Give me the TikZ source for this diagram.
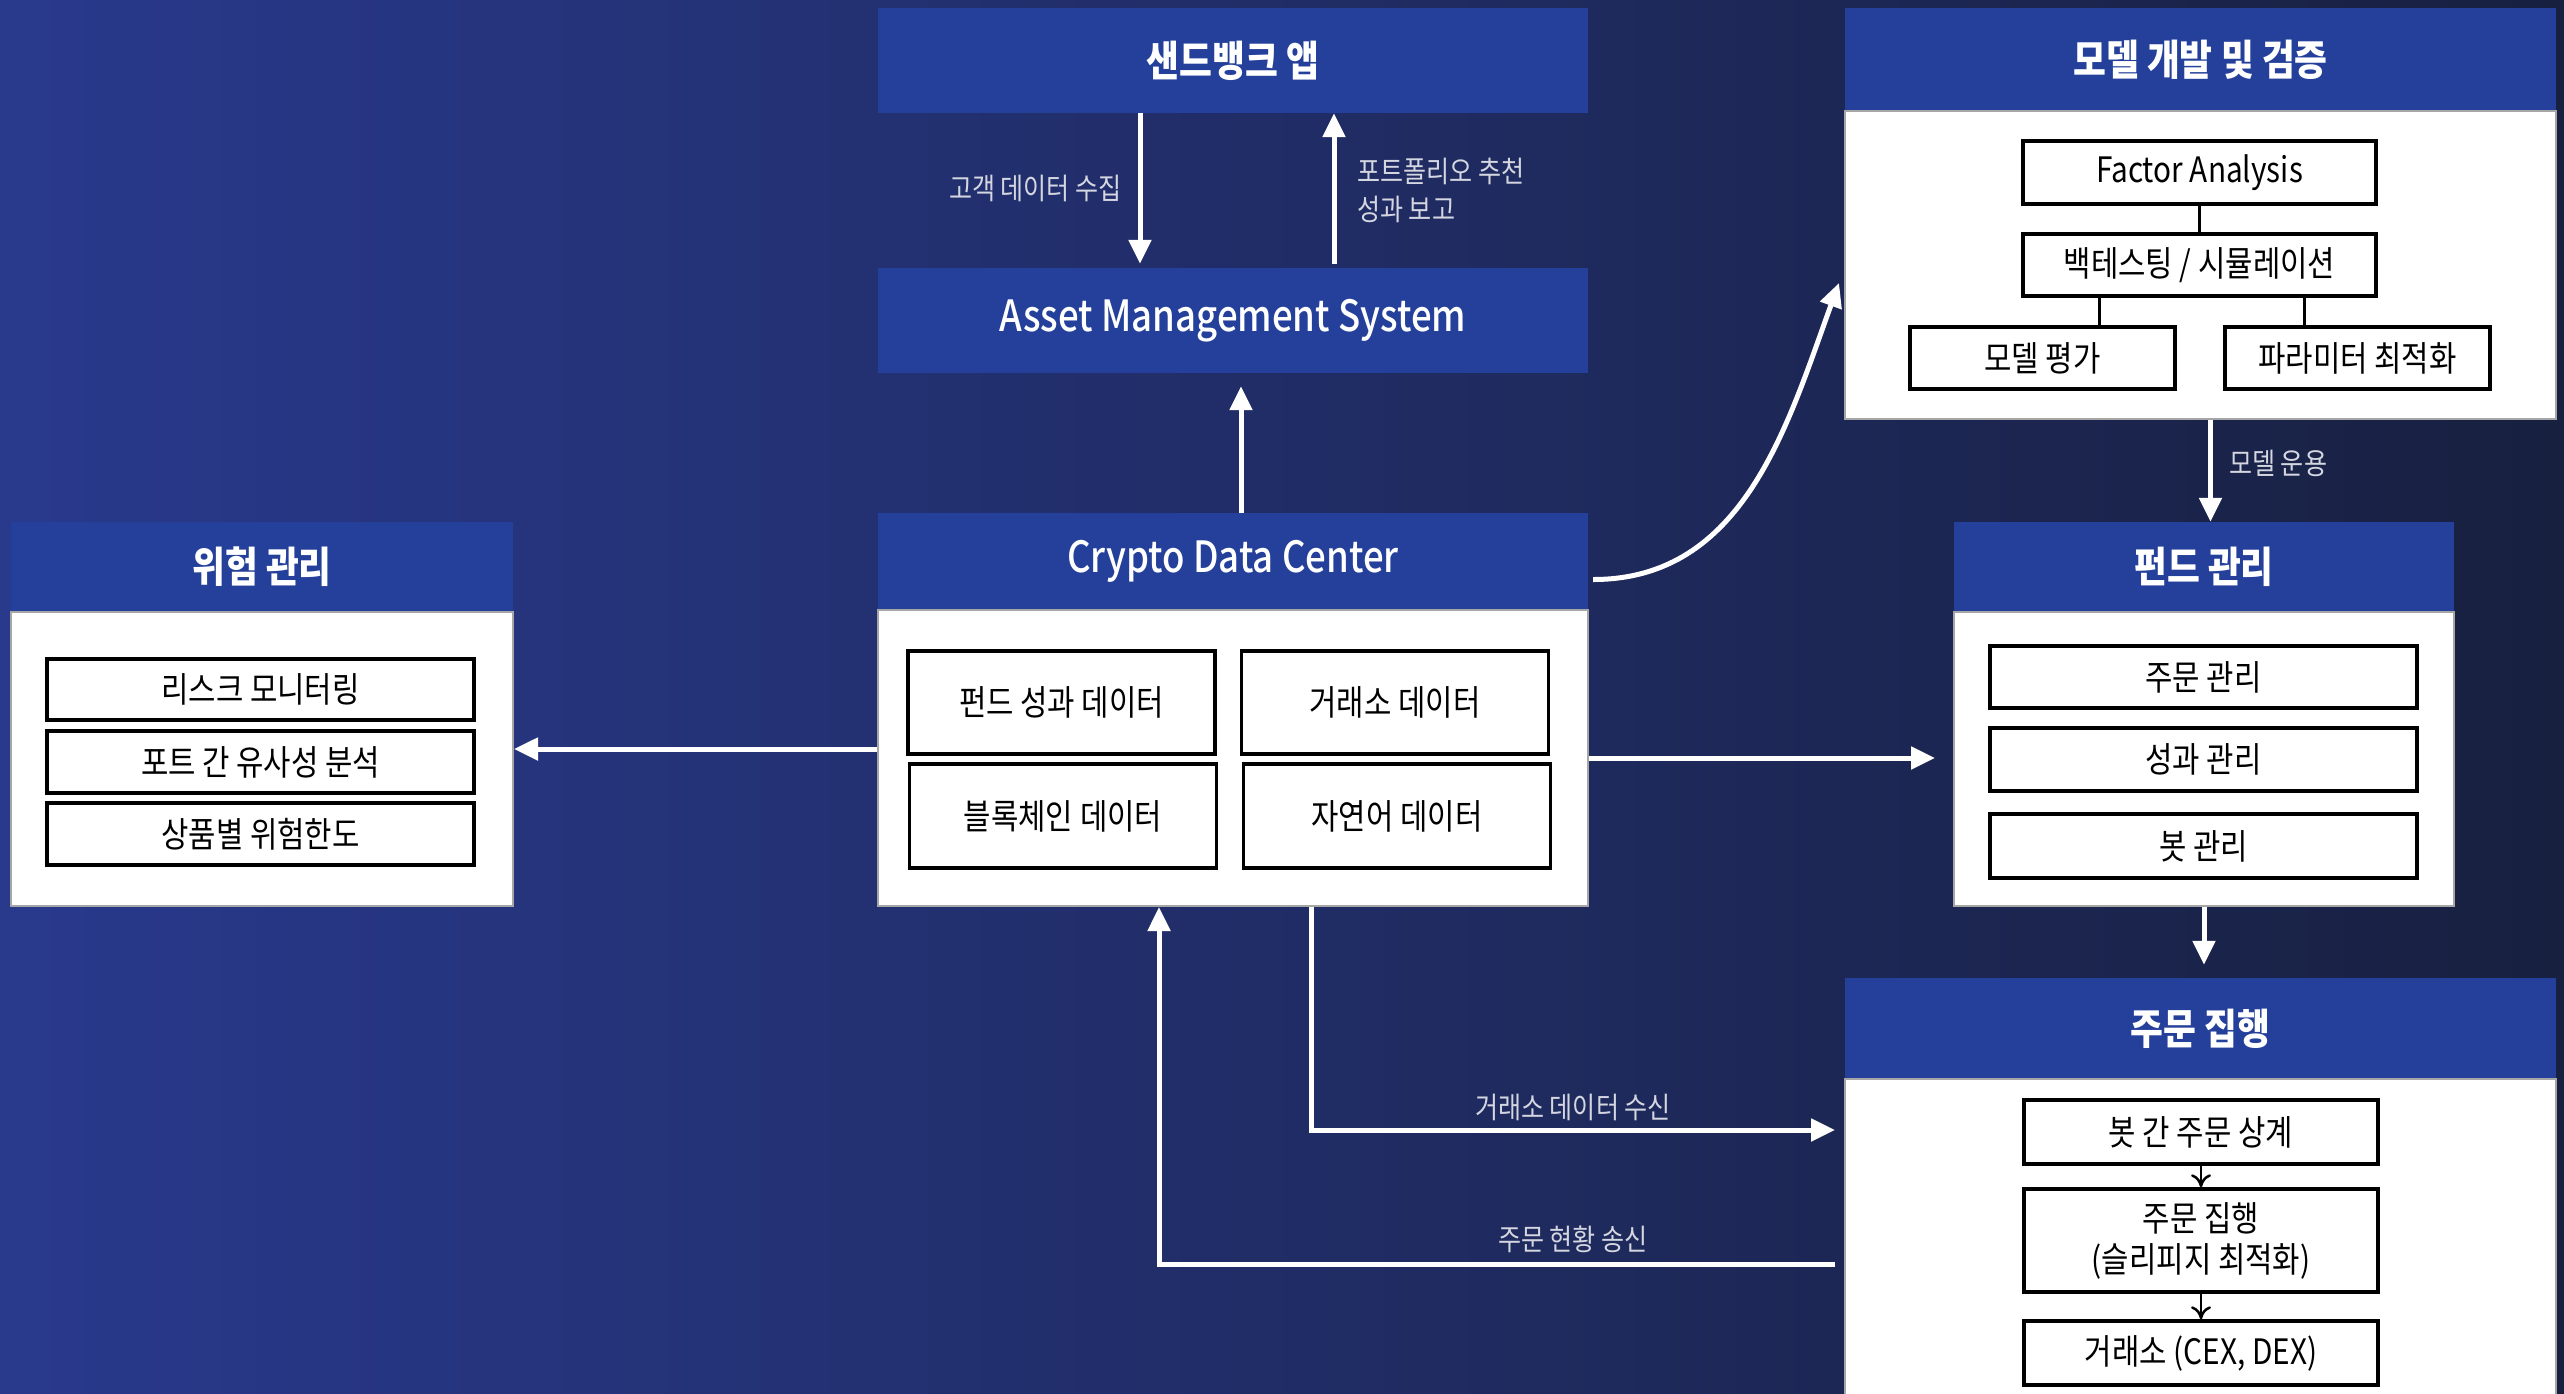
\documentclass[tikz,border=0pt]{standalone}
\usepackage{fontspec}
\newfontfamily\kr[FakeStretch=0.85]{Noto Sans CJK KR}
\newfontfamily\krmed[FakeStretch=0.85]{Noto Sans CJK KR Medium}
\usetikzlibrary{arrows.meta}
\definecolor{bgleft}{RGB}{41,57,140}
\definecolor{bgright}{RGB}{24,32,64}
\definecolor{headblue}{RGB}{36,64,154}
\definecolor{lblgrey}{RGB}{212,214,224}
\begin{document}
\begin{tikzpicture}[x=1pt,y=-1pt,
  head/.style={fill=headblue,text=white,inner sep=0pt,font=\kr\bfseries\fontsize{42}{48}\selectfont},
  latinhead/.style={head,font=\krmed\fontsize{43}{48}\selectfont},
  panel/.style={fill=white,draw=gray!70,line width=2pt,inner sep=0pt},
  item/.style={fill=white,draw=black,line width=3.5pt,inner sep=0pt,align=center,font=\kr\fontsize{35}{41}\selectfont},
  lbl/.style={text=lblgrey,inner sep=0pt,font=\kr\fontsize{29.5}{38}\selectfont},
  flow/.style={draw=white,line width=5pt,-{Triangle[width=22pt,length=24pt]}},
  link/.style={draw=black,line width=3pt},
  subflow/.style={draw=black,line width=2.5pt,-{To[length=13pt,width=20pt]}}]
      \shade[left color=bgleft,right color=bgright] (0,0) rectangle (2564,1393);
      \useasboundingbox (0,0) rectangle (2564,1393);
      \node[head,minimum width=710pt,minimum height=105pt] (app) at (1233,60.5) {샌드뱅크 앱};
      \node[latinhead,minimum width=710pt,minimum height=105pt] (ams) at (1233,320.5) {Asset Management System};
      \node[latinhead,minimum width=710pt,minimum height=97pt] (cdchead) at (1233,561.5) {Crypto Data Center};
      \node[panel,minimum width=710pt,minimum height=296pt] (cdcbody) at (1233,758) {};
      \node[item,minimum width=307pt,minimum height=103pt] (fperf) at (1061.5,702.5) {펀드 성과 데이터};
      \node[item,minimum width=307pt,minimum height=103pt] (exch) at (1395,702.5) {거래소 데이터};
      \node[item,minimum width=307pt,minimum height=104pt] (chain) at (1063,816) {블록체인 데이터};
      \node[item,minimum width=307pt,minimum height=104pt] (nlp) at (1397,816) {자연어 데이터};
      \node[head,minimum width=502pt,minimum height=90pt] (riskhead) at (262,567) {위험 관리};
      \node[panel,minimum width=502pt,minimum height=294pt] (riskbody) at (262,759) {};
      \node[item,minimum width=427pt,minimum height=61pt] (r1) at (260.5,689.5) {리스크 모니터링};
      \node[item,minimum width=427pt,minimum height=62pt] (r2) at (260.5,762) {포트 간 유사성 분석};
      \node[item,minimum width=427pt,minimum height=62pt] (r3) at (260.5,834) {상품별 위험한도};
      \node[head,minimum width=711pt,minimum height=103pt] (modelhead) at (2200.5,59.5) {모델 개발 및 검증};
      \node[panel,minimum width=711pt,minimum height=308pt] (modelbody) at (2200.5,265) {};
      \node[item,minimum width=353pt,minimum height=63pt] (fa) at (2199.5,172.5) {Factor Analysis};
      \node[item,minimum width=353pt,minimum height=62pt] (bt) at (2199.5,265) {백테스팅 / 시뮬레이션};
      \node[item,minimum width=265pt,minimum height=62pt] (eval) at (2042.5,358) {모델 평가};
      \node[item,minimum width=265pt,minimum height=62pt] (param) at (2357.5,358) {파라미터 최적화};
      \node[head,minimum width=500pt,minimum height=90pt] (fundhead) at (2204,567) {펀드 관리};
      \node[panel,minimum width=500pt,minimum height=294pt] (fundbody) at (2204,759) {};
      \node[item,minimum width=427pt,minimum height=62pt] (f1) at (2203.5,677) {주문 관리};
      \node[item,minimum width=427pt,minimum height=63pt] (f2) at (2203.5,759.5) {성과 관리};
      \node[item,minimum width=427pt,minimum height=64pt] (f3) at (2203.5,846) {봇 관리};
      \node[head,minimum width=711pt,minimum height=101pt] (orderhead) at (2200.5,1028.5) {주문 집행};
      \node[panel,minimum width=711pt,minimum height=321pt] (orderbody) at (2200.5,1239.5) {};
      \node[item,minimum width=354pt,minimum height=64pt] (o1) at (2201,1132) {봇 간 주문 상계};
      \node[item,minimum width=354pt,minimum height=103pt] (o2) at (2201,1240.5) {주문 집행\\(슬리피지 최적화)};
      \node[item,minimum width=354pt,minimum height=64pt] (o3) at (2201,1353) {거래소 (CEX, DEX)};
      \draw[link] (fa) -- (bt);
      \draw[link] ([xshift=-100pt]bt.south) -- ([xshift=-100pt]bt.south |- eval.north);
      \draw[link] ([xshift=105pt]bt.south) -- ([xshift=105pt]bt.south |- param.north);
      \draw[subflow] (o1) -- (o2);
      \draw[subflow] (o2) -- (o3);
      \draw[flow,shorten >=4pt] ([xshift=-93pt]app.south) -- ([xshift=-93pt]ams.north);
      \draw[flow,shorten <=4pt] ([xshift=101pt]ams.north) -- ([xshift=101pt]app.south);
      \draw[flow,shorten >=13pt] ([xshift=8pt]cdchead.north) -- ([xshift=8pt]ams.south);
      \draw[flow] ([yshift=9pt]cdcbody.west) -- ([yshift=9pt]cdcbody.west -| riskbody.east);
      \draw[flow] ([xshift=5pt,yshift=-18pt]cdchead.east) to[out=0,in=-110] ([xshift=-5pt,yshift=-18pt]modelbody.west);
      \draw[flow] ([xshift=10pt]modelbody.south) -- ([xshift=10pt]modelbody.south |- fundhead.north);
      \draw[flow,shorten >=18pt] (cdcbody.east) -- (cdcbody.east -| fundbody.west);
      \draw[flow,shorten >=13pt] (fundbody.south) -- (fundbody.south |- orderhead.north);
      \coordinate (recv) at (1845,1130);
      \coordinate (send) at (1845,1264);
      \draw[flow,shorten >=10pt] ([xshift=78pt]cdcbody.south) |- (recv);
      \draw[flow,shorten <=10pt] (send) -| ([xshift=-74pt]cdcbody.south);
      \node[lbl,anchor=east] (collect) at (1122,188) {고객 데이터 수집};
      \node[lbl,anchor=west,align=left] (report) at (1357,190) {포트폴리오 추천\\성과 보고};
      \node[lbl,anchor=west] (operate) at (2229,463) {모델 운용};
      \node[lbl] (recvlbl) at (1573,1107) {거래소 데이터 수신};
      \node[lbl] (sendlbl) at (1573,1239) {주문 현황 송신};
     \end{tikzpicture}
\end{document}
